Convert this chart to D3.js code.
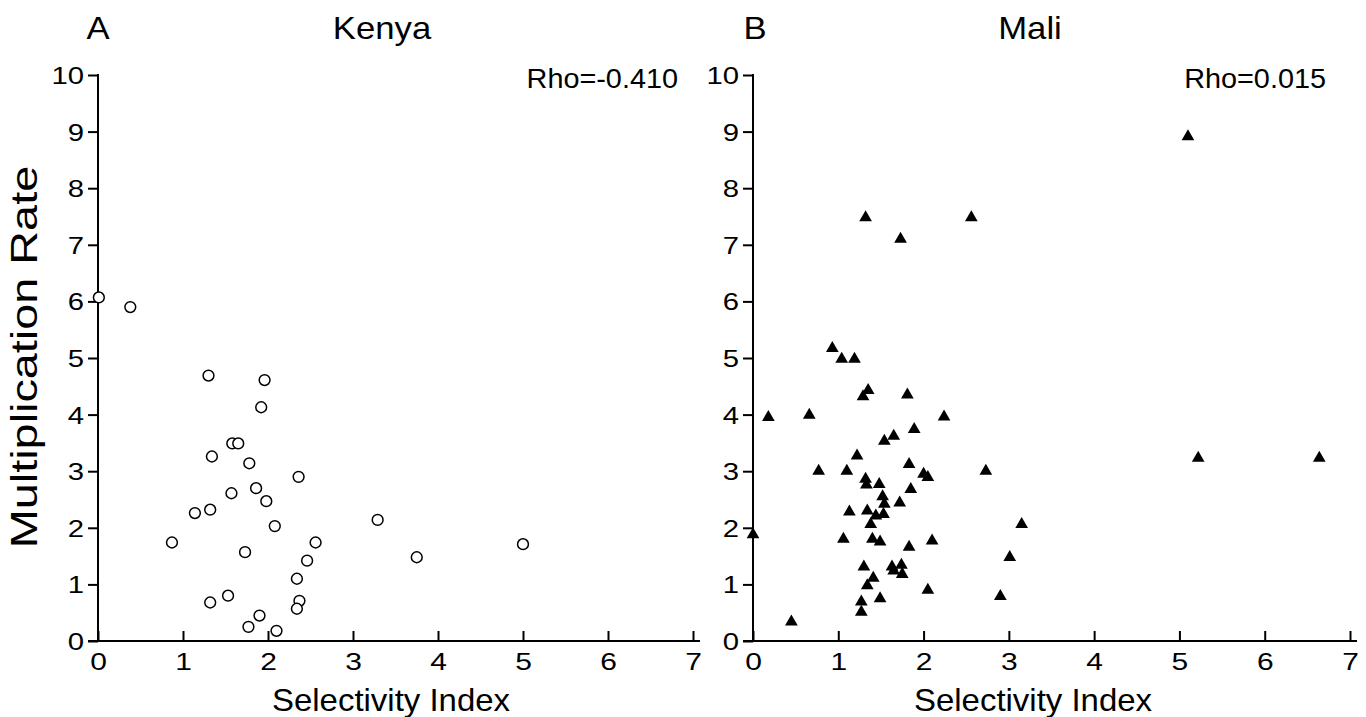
<!DOCTYPE html>
<html><head><meta charset="utf-8">
<script src="https://cdn.jsdelivr.net/npm/d3@7"></script>
<style>
html,body{margin:0;padding:0;background:#fff;}
text{font-family:"Liberation Sans",Arial,sans-serif;fill:#000;}
</style></head>
<body>
<svg id="chart" width="1366" height="717"></svg>
<script>
// ---- data ----
const xTicks = [0,1,2,3,4,5,6,7];
const yTicks = [0,1,2,3,4,5,6,7,8,9,10];
const panelLetters = ["A","B"];
const panelTitles = ["Kenya","Mali"];
const rhoLabels = ["Rho=-0.410","Rho=0.015"];
const xTitle = "Selectivity Index";
const yTitle = "Multiplication Rate";

const kenyaSI = [0.01,0.38,1.30,1.96,1.92,1.58,1.65,1.34,1.78,2.36,1.86,1.57,1.98,1.32,1.14,3.29,2.08,0.87,2.56,5.00,1.73,2.46,3.75,2.34,1.53,1.32,2.37,2.34,1.90,1.77,2.10];
const kenyaMR = [6.07,5.90,4.69,4.61,4.13,3.49,3.49,3.26,3.14,2.90,2.70,2.61,2.47,2.32,2.26,2.14,2.03,1.74,1.74,1.71,1.57,1.42,1.48,1.10,0.80,0.68,0.71,0.57,0.45,0.25,0.18];

const maliSI = [5.10,5.22,6.64,1.32,1.73,2.56,0.93,1.04,1.19,1.35,1.29,0.18,0.66,
  1.81,2.24,1.89,1.65,1.54,1.22,1.83,0.77,1.10,2.00,2.73,
  0.00,0.45,2.05,1.32,1.33,1.48,1.85,1.52,1.54,1.72,1.13,1.34,1.44,1.53,1.38,3.15,
  1.06,1.40,1.49,2.10,1.83,3.01,1.30,1.63,1.74,1.65,1.75,1.41,1.34,2.05,2.90,1.49,1.27,1.27];
const maliMR = [8.91,3.23,3.23,7.48,7.10,7.48,5.17,4.98,4.98,4.43,4.32,3.95,3.99,
  4.35,3.96,3.74,3.62,3.53,3.27,3.12,3.00,3.00,2.95,3.00,
  1.88,0.34,2.89,2.86,2.76,2.77,2.68,2.55,2.42,2.44,2.28,2.30,2.21,2.24,2.06,2.06,
  1.80,1.80,1.75,1.77,1.66,1.48,1.31,1.31,1.34,1.24,1.18,1.11,0.98,0.90,0.79,0.75,0.69,0.51];

// ---- layout ----
const svg = d3.select("#chart");
const panels = [
  {x0:98, x1:693, si:kenyaSI, mr:kenyaMR, marker:"circle", letterX:98, titleX:382, rhoX:678, xTitleX:391},
  {x0:753, x1:1350, si:maliSI, mr:maliMR, marker:"triangle", letterX:755, titleX:1030, rhoX:1326, xTitleX:1033}
];
const yTop = 75, yBot = 641;

function label(g, txt, x, y, size, sx, anchor) {
  return g.append("text")
    .attr("transform", `translate(${x},${y}) scale(${sx},1)`)
    .attr("text-anchor", anchor).attr("font-size", size).text(txt);
}

panels.forEach((p,i)=>{
  const x = d3.scaleLinear().domain([0,7]).range([p.x0,p.x1]);
  const y = d3.scaleLinear().domain([0,10]).range([yBot,yTop]);
  const g = svg.append("g");

  // y axis
  const ya = g.append("g").attr("transform",`translate(${p.x0},0)`)
    .call(d3.axisLeft(y).tickValues(yTicks).tickSize(10).tickPadding(4).tickFormat(d3.format("d")));
  ya.select(".domain").remove();
  ya.selectAll(".tick line").attr("stroke","#000").attr("stroke-width",2);
  ya.selectAll(".tick text").each(function(){
      const t = d3.select(this);
      const tx = +t.attr("x");
      t.attr("x",null).attr("dy",null)
       .attr("transform",`translate(${tx},8.5) scale(1.22,1)`);
    })
    .attr("font-size",24).attr("font-family","Liberation Sans, Arial, sans-serif").attr("fill","#000");
  g.append("line").attr("x1",p.x0).attr("x2",p.x0).attr("y1",yTop-1).attr("y2",yBot)
    .attr("stroke","#000").attr("stroke-width",2);

  // x axis
  const xa = g.append("g").attr("transform",`translate(0,${yBot})`)
    .call(d3.axisBottom(x).tickValues(xTicks).tickSizeInner(-10).tickSizeOuter(0).tickPadding(10).tickFormat(d3.format("d")));
  xa.select(".domain").remove();
  xa.selectAll(".tick line").attr("stroke","#000").attr("stroke-width",2);
  xa.selectAll(".tick text").each(function(){
      const t = d3.select(this);
      t.attr("y",null).attr("dy",null)
       .attr("transform",`translate(0,29) scale(1.25,1)`);
    })
    .attr("font-size",24).attr("font-family","Liberation Sans, Arial, sans-serif").attr("fill","#000");
  g.append("line").attr("x1",p.x0-10).attr("x2",x(7)+7).attr("y1",yBot).attr("y2",yBot)
    .attr("stroke","#000").attr("stroke-width",2);

  // labels
  label(g, panelLetters[i], p.letterX, 39, 31, 1.12, "middle");
  label(g, panelTitles[i], p.titleX, 39, 31, 1.12, "middle");
  label(g, rhoLabels[i], p.rhoX, 88, 28, 1.03, "end");
  label(g, xTitle, p.xTitleX, 711, 32, 1.03, "middle");

  // points
  const pts = p.si.map((s,k)=>({s, m:p.mr[k]}));
  if (p.marker==="circle") {
    g.selectAll("circle.pt").data(pts).join("circle").attr("class","pt")
      .attr("cx",d=>x(d.s)).attr("cy",d=>y(d.m)).attr("r",5.4)
      .attr("fill","#fff").attr("stroke","#000").attr("stroke-width",1.5);
  } else {
    const tri = d3.symbol().type(d3.symbolTriangle).size(70);
    g.selectAll("path.pt").data(pts).join("path").attr("class","pt")
      .attr("d",tri).attr("transform",d=>`translate(${x(d.s)},${y(d.m)})`)
      .attr("fill","#000");
  }
});

// y title (left panel only)
svg.append("text").attr("transform","translate(37,357) rotate(-90) scale(1.3,1)")
  .attr("text-anchor","middle").attr("font-size",36).text(yTitle);
</script>
</body></html>
